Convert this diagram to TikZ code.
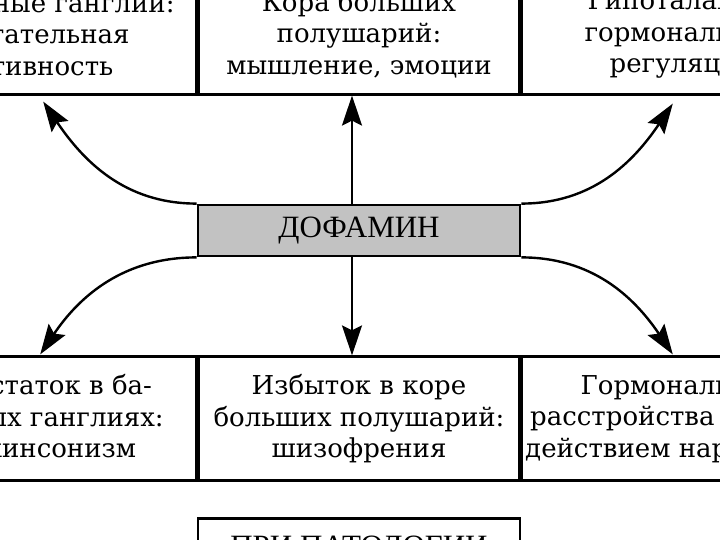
\documentclass[tikz,border=0pt]{standalone}
\usepackage{fontspec}
\setmainfont{DejaVu Serif}
\newfontfamily\capsfont{Liberation Serif}
\usepackage{tikz}
\usetikzlibrary{positioning}
\usetikzlibrary{arrows.meta}

\begin{document}
\begin{tikzpicture}[x=1pt, y=1pt,
    box/.style={draw, line width=2.8pt, minimum width=320pt, inner sep=0pt, align=center, font=\fontsize{26}{31.5}\selectfont},
    arr/.style={line width=2.4pt, -{Stealth[length=30pt, width=20pt, inset=5pt]}}]
    \useasboundingbox (0,0) rectangle (720,540);
    \clip (0,0) rectangle (720,540);

    \node [box, minimum width=322pt, minimum height=51pt, fill=black!24, font=\capsfont\fontsize{31}{33}\selectfont] (dopa) at (359,309.5) {ДОФАМИН};

    \node [box, minimum height=119pt, above=108pt of dopa] (cortex) {Кора больших\\полушарий:\\мышление, эмоции};
    \node [box, minimum height=119pt, left=0pt of cortex] (ganglia) {Базальные ганглии:\\двигательная\\активность};
    \node [box, minimum height=119pt, right=0pt of cortex] (hypoth) {Гипоталамус:\\гормональная\\регуляция};

    \node [box, minimum height=124pt, below=98pt of dopa] (schizo) {Избыток в коре\\больших полушарий:\\шизофрения};
    \node [box, minimum height=124pt, left=0pt of schizo] (parkinson) {Недостаток в ба-\\зальных ганглиях:\\паркинсонизм};
    \node [box, minimum height=124pt, right=0pt of schizo] (narco) {Гормональные\\расстройства под воз-\\действием наркотиков};

    \node [box, minimum width=322pt, minimum height=56pt, below=35pt of schizo, font=\capsfont\fontsize{31}{33}\selectfont] (patho) {ПРИ ПАТОЛОГИИ};

    \draw [arr] ([xshift=-7pt]dopa.north) -- ([xshift=-7pt]cortex.south);
    \draw [arr] ([xshift=-7pt]dopa.south) -- ([xshift=-7pt]schizo.north);
    \draw [arr] (dopa.north west) to [out=180, in=-56] ([shift={(7pt,-6pt)}]ganglia.south);
    \draw [arr] (dopa.north east) to [out=0, in=236] ([shift={(-9pt,-8pt)}]hypoth.south);
    \draw [arr] (dopa.south west) to [out=180, in=56] ([shift={(4pt,1pt)}]parkinson.north);
    \draw [arr] (dopa.south east) to [out=0, in=124] ([shift={(-9pt,1pt)}]narco.north);
\end{tikzpicture}
\end{document}
